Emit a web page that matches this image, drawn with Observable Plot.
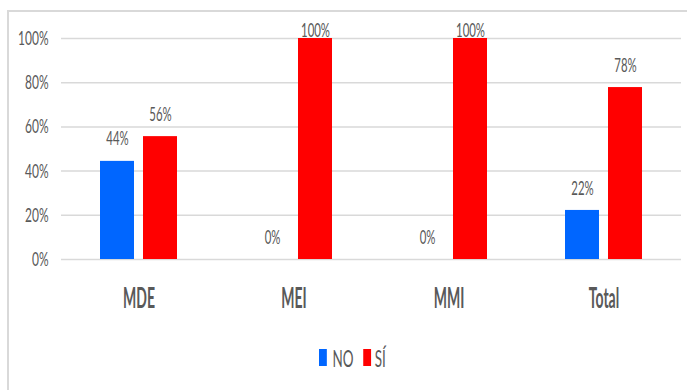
<!DOCTYPE html>
<html>
<head>
<meta charset="utf-8">
<script src="https://cdn.jsdelivr.net/npm/d3@7"></script>
<script src="https://cdn.jsdelivr.net/npm/@observablehq/plot@0.6"></script>
<style>
  html, body { margin: 0; padding: 0; background: #fff; overflow: hidden; width: 687px; height: 390px; }
  #wrap { position: relative; width: 687px; height: 390px; }
  #border { position: absolute; left: 7px; top: 10px; width: 720px; height: 420px; border: 2px solid #d9d9d9; box-sizing: border-box; pointer-events: none; }
  #chart svg { display: block; font-family: Lato, "Open Sans", sans-serif; }
  #chart svg text { fill: #595959; }
  #chart [aria-label^="y-axis"] text { font-size: 20px; }
  #chart [aria-label^="fx-axis"] text { font-size: 28px; font-weight: bold; }
  #legend { position: absolute; left: 319px; top: 343px; display: flex; align-items: center; transform: scaleX(0.56); transform-origin: left center; font-family: Lato, sans-serif; font-size: 24px; color: #595959; white-space: nowrap; }
  #legend .sw { width: 14px; height: 17px; display: inline-block; }
</style>
</head>
<body>
<div id="wrap">
  <div id="chart"></div>
  <div id="legend"></div>
  <div id="border"></div>
</div>
<script>
const categories = ["MDE", "MEI", "MMI", "Total"];
const series = ["NO", "SÍ"];
const seriesColors = ["#0066ff", "#ff0000"];
const valuesNO = [0.444, 0, 0, 0.222];
const valuesSI = [0.556, 1, 1, 0.778];
const yTicks = [0, 0.2, 0.4, 0.6, 0.8, 1];

const data = [];
categories.forEach((c, i) => {
  data.push({cat: c, series: "NO", value: valuesNO[i]});
  data.push({cat: c, series: "SÍ", value: valuesSI[i]});
});
const pct = d => Math.round(d * 100) + "%";

const chart = Plot.plot({
  width: 687,
  height: 330,
  marginLeft: 60,
  marginRight: 6,
  marginTop: 38,
  marginBottom: 71,
  style: {background: "transparent"},
  fx: {domain: categories, padding: 0, axis: "bottom", label: null, tickSize: 0, tickPadding: 29},
  x: {domain: series, paddingInner: 0.2045, paddingOuter: 0.864, axis: null},
  y: {domain: [0, 1], ticks: yTicks, tickFormat: pct, tickSize: 0, tickPadding: 13, label: null},
  color: {domain: series, range: seriesColors},
  marks: [
    Plot.ruleY(yTicks, {stroke: "#d9d9d9", strokeWidth: 1.5}),
    Plot.barY(data, {fx: "cat", x: "series", y: "value", fill: "series"}),
    Plot.text(data.filter(d => d.value < 0.9), {fx: "cat", x: "series", y: "value", text: d => pct(d.value), dy: -22, fontSize: 19, fill: "#595959"}),
    Plot.text(data.filter(d => d.value >= 0.9), {fx: "cat", x: "series", y: "value", text: d => pct(d.value), dy: -8, fontSize: 19, fill: "#595959"})
  ]
});
document.getElementById("chart").appendChild(chart);

function squish(nodes, k) {
  nodes.forEach(t => {
    const w = t.getComputedTextLength();
    if (w > 0) {
      t.setAttribute("textLength", w * k);
      t.setAttribute("lengthAdjust", "spacingAndGlyphs");
    }
  });
}
const fxTexts = Array.from(chart.querySelectorAll('[aria-label^="fx-axis"] text'));
squish(fxTexts, 0.5);
squish(Array.from(chart.querySelectorAll("text")).filter(t => !fxTexts.includes(t)), 0.6);

const legend = document.getElementById("legend");
series.forEach((s, i) => {
  const sw = document.createElement("span");
  sw.className = "sw";
  sw.style.background = seriesColors[i];
  sw.style.marginRight = (i === 0 ? 10 : 7) + "px";
  legend.appendChild(sw);
  const lab = document.createElement("span");
  lab.textContent = s;
  if (i === 0) lab.style.marginRight = "17px";
  legend.appendChild(lab);
});
</script>
</body>
</html>
